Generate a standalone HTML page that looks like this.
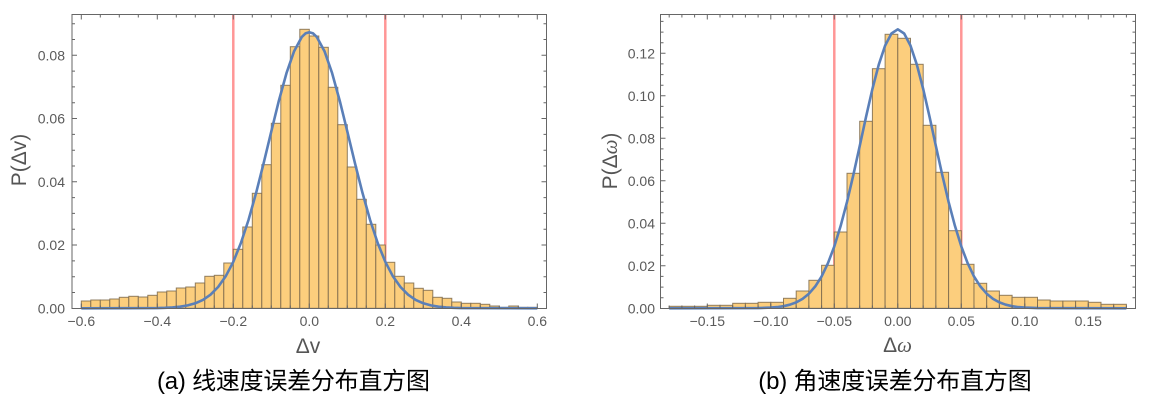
<!DOCTYPE html>
<html><head><meta charset="utf-8"><style>
html,body{margin:0;padding:0;background:#fff;}
svg{display:block;}
.tl{font-family:"Liberation Sans",sans-serif;font-size:14px;fill:#5a5a5a;}
.al{font-family:"Liberation Sans","DejaVu Sans",sans-serif;font-size:21px;fill:#555;}
.cap{font-family:"Liberation Sans","Noto Sans CJK SC",sans-serif;font-size:24px;fill:#000;}
</style></head><body>
<svg width="1149" height="413" viewBox="0 0 1149 413" xmlns="http://www.w3.org/2000/svg">
<rect width="1149" height="413" fill="#fff"/>

<!-- LEFT PLOT -->
<g stroke="#FF9696" stroke-width="2.5">
<line x1="233.3" y1="14.5" x2="233.3" y2="308.5"/>
<line x1="385.3" y1="14.5" x2="385.3" y2="308.5"/>
</g>
<g fill="#FCCE7D" stroke="#7d6a4c" stroke-opacity="0.85" stroke-width="1">
<rect x="81.3" y="301" width="9.5" height="7.3"/>
<rect x="90.8" y="300" width="9.5" height="8.3"/>
<rect x="100.3" y="300" width="9.5" height="8.3"/>
<rect x="109.8" y="299" width="9.5" height="9.3"/>
<rect x="119.3" y="297.3" width="9.5" height="11"/>
<rect x="128.8" y="296.3" width="9.5" height="12"/>
<rect x="138.3" y="297" width="9.5" height="11.3"/>
<rect x="147.8" y="295.3" width="9.5" height="13"/>
<rect x="157.3" y="292" width="9.5" height="16.3"/>
<rect x="166.8" y="291" width="9.5" height="17.3"/>
<rect x="176.3" y="288" width="9.5" height="20.3"/>
<rect x="185.8" y="287" width="9.5" height="21.3"/>
<rect x="195.3" y="283" width="9.5" height="25.3"/>
<rect x="204.8" y="276.3" width="9.5" height="32"/>
<rect x="214.3" y="275.3" width="9.5" height="33"/>
<rect x="223.8" y="263" width="9.5" height="45.3"/>
<rect x="233.3" y="249.3" width="9.5" height="59"/>
<rect x="242.8" y="227" width="9.5" height="81.3"/>
<rect x="252.3" y="193.3" width="9.5" height="115"/>
<rect x="261.8" y="164.7" width="9.5" height="143.6"/>
<rect x="271.3" y="123.3" width="9.5" height="185"/>
<rect x="280.8" y="85.3" width="9.5" height="223"/>
<rect x="290.3" y="46.7" width="9.5" height="261.6"/>
<rect x="299.8" y="29.3" width="9.5" height="279"/>
<rect x="309.3" y="36" width="9.5" height="272.3"/>
<rect x="318.8" y="47.3" width="9.5" height="261"/>
<rect x="328.3" y="87.3" width="9.5" height="221"/>
<rect x="337.8" y="124.7" width="9.5" height="183.6"/>
<rect x="347.3" y="167" width="9.5" height="141.3"/>
<rect x="356.8" y="199.3" width="9.5" height="109"/>
<rect x="366.3" y="224.3" width="9.5" height="84"/>
<rect x="375.8" y="245" width="9.5" height="63.3"/>
<rect x="385.3" y="262.3" width="9.5" height="46"/>
<rect x="394.8" y="276.3" width="9.5" height="32"/>
<rect x="404.3" y="283" width="9.5" height="25.3"/>
<rect x="413.8" y="288.3" width="9.5" height="20"/>
<rect x="423.3" y="290.3" width="9.5" height="18"/>
<rect x="432.8" y="297.3" width="9.5" height="11"/>
<rect x="442.3" y="298.3" width="9.5" height="10"/>
<rect x="451.8" y="302" width="9.5" height="6.3"/>
<rect x="461.3" y="303.3" width="9.5" height="5"/>
<rect x="470.8" y="303.3" width="9.5" height="5"/>
<rect x="480.3" y="304.3" width="9.5" height="4"/>
<rect x="489.8" y="306" width="9.5" height="2.3"/>
<rect x="499.3" y="307.3" width="9.5" height="1"/>
<rect x="508.8" y="306" width="9.5" height="2.3"/>
<rect x="518.3" y="307.3" width="9.5" height="1"/>
<rect x="527.8" y="307.3" width="9.5" height="1"/>
</g>
<polyline fill="none" stroke="#5A7FB8" stroke-width="2.6" stroke-linejoin="round" points="81.3,308.3 157.3,308.1 164.9,307.85 172.5,307.4 180.1,306.7 187.7,305.4 195.3,303.3 202.9,299.9 210.5,294.7 218.1,287.0 225.7,276.3 233.3,261.8 240.9,243.0 248.5,220.0 256.1,192.9 263.7,162.9 271.3,131.4 278.9,100.6 286.5,73.1 294.1,51.2 301.7,37.1 305.5,33.4 309.3,32.2 313.1,33.4 316.9,37.1 324.5,51.2 332.1,73.1 339.7,100.6 347.3,131.4 354.9,162.9 362.5,192.9 370.1,220.0 377.7,243.0 385.3,261.8 392.9,276.3 400.5,287.0 408.1,294.7 415.7,299.9 423.3,303.3 430.9,305.4 438.5,306.7 446.1,307.4 453.7,307.85 461.3,308.1 537.3,308.3"/>
<rect x="72" y="14.5" width="474.5" height="294" fill="none" stroke="#666" stroke-width="1"/>
<g stroke="#666" stroke-width="1" fill="none">
<path d="M81.3 308.5v-5M157.3 308.5v-5M233.3 308.5v-5M309.3 308.5v-5M385.3 308.5v-5M461.3 308.5v-5M537.3 308.5v-5M81.3 14.5v5M157.3 14.5v5M233.3 14.5v5M309.3 14.5v5M385.3 14.5v5M461.3 14.5v5M537.3 14.5v5"/>
<path d="M100.3 308.5v-3M119.3 308.5v-3M138.3 308.5v-3M176.3 308.5v-3M195.3 308.5v-3M214.3 308.5v-3M252.3 308.5v-3M271.3 308.5v-3M290.3 308.5v-3M328.3 308.5v-3M347.3 308.5v-3M366.3 308.5v-3M404.3 308.5v-3M423.3 308.5v-3M442.3 308.5v-3M480.3 308.5v-3M499.3 308.5v-3M518.3 308.5v-3M100.3 14.5v3M119.3 14.5v3M138.3 14.5v3M176.3 14.5v3M195.3 14.5v3M214.3 14.5v3M252.3 14.5v3M271.3 14.5v3M290.3 14.5v3M328.3 14.5v3M347.3 14.5v3M366.3 14.5v3M404.3 14.5v3M423.3 14.5v3M442.3 14.5v3M480.3 14.5v3M499.3 14.5v3M518.3 14.5v3"/>
<path d="M72 245.05h5M72 181.8h5M72 118.55h5M72 55.3h5M546.5 245.05h-5M546.5 181.8h-5M546.5 118.55h-5M546.5 55.3h-5"/>
<path d="M72 292.5h3M72 276.7h3M72 260.9h3M72 229.2h3M72 213.4h3M72 197.6h3M72 166h3M72 150.2h3M72 134.4h3M72 102.7h3M72 86.9h3M72 71.1h3M72 39.5h3M72 23.7h3M546.5 292.5h-3M546.5 276.7h-3M546.5 260.9h-3M546.5 229.2h-3M546.5 213.4h-3M546.5 197.6h-3M546.5 166h-3M546.5 150.2h-3M546.5 134.4h-3M546.5 102.7h-3M546.5 86.9h-3M546.5 71.1h-3M546.5 39.5h-3M546.5 23.7h-3"/>
</g>
<g class="tl" text-anchor="middle">
<text x="81.3" y="326">−0.6</text>
<text x="157.3" y="326">−0.4</text>
<text x="233.3" y="326">−0.2</text>
<text x="309.3" y="326">0.0</text>
<text x="385.3" y="326">0.2</text>
<text x="461.3" y="326">0.4</text>
<text x="537.3" y="326">0.6</text>
</g>
<g class="tl" text-anchor="end">
<text x="65" y="313.3">0.00</text>
<text x="65" y="250">0.02</text>
<text x="65" y="186.8">0.04</text>
<text x="65" y="123.5">0.06</text>
<text x="65" y="60.3">0.08</text>
</g>
<text class="al" x="308" y="353" text-anchor="middle">Δv</text>
<text class="al" transform="translate(26,160) rotate(-90)" text-anchor="middle">P(Δv)</text>
<text class="cap" x="157" y="389" textLength="273" lengthAdjust="spacing">(a) 线速度误差分布直方图</text>

<!-- RIGHT PLOT -->
<g stroke="#FF9696" stroke-width="2.5">
<line x1="834.3" y1="14.5" x2="834.3" y2="308.5"/>
<line x1="961.3" y1="14.5" x2="961.3" y2="308.5"/>
</g>
<g fill="#FCCE7D" stroke="#7d6a4c" stroke-opacity="0.85" stroke-width="1">
<rect x="669.2" y="306.3" width="12.7" height="2"/>
<rect x="681.9" y="306.3" width="12.7" height="2"/>
<rect x="694.6" y="306.3" width="12.7" height="2"/>
<rect x="707.3" y="305.3" width="12.7" height="3"/>
<rect x="720.0" y="305.3" width="12.7" height="3"/>
<rect x="732.7" y="303.3" width="12.7" height="5"/>
<rect x="745.4" y="303.3" width="12.7" height="5"/>
<rect x="758.1" y="302.3" width="12.7" height="6"/>
<rect x="770.8" y="302.3" width="12.7" height="6"/>
<rect x="783.5" y="298.3" width="12.7" height="10"/>
<rect x="796.2" y="291" width="12.7" height="17.3"/>
<rect x="808.9" y="280.3" width="12.7" height="28"/>
<rect x="821.6" y="265.3" width="12.7" height="43"/>
<rect x="834.3" y="232" width="12.7" height="76.3"/>
<rect x="847.0" y="173.3" width="12.7" height="135"/>
<rect x="859.7" y="121.3" width="12.7" height="187"/>
<rect x="872.4" y="68.7" width="12.7" height="239.6"/>
<rect x="885.1" y="34.3" width="12.7" height="274"/>
<rect x="897.8" y="38.3" width="12.7" height="270"/>
<rect x="910.5" y="64.3" width="12.7" height="244"/>
<rect x="923.2" y="125.3" width="12.7" height="183"/>
<rect x="935.9" y="172.3" width="12.7" height="136"/>
<rect x="948.6" y="230.7" width="12.7" height="77.6"/>
<rect x="961.3" y="264.3" width="12.7" height="44"/>
<rect x="974.0" y="283.3" width="12.7" height="25"/>
<rect x="986.7" y="291" width="12.7" height="17.3"/>
<rect x="999.4" y="295.3" width="12.7" height="13"/>
<rect x="1012.1" y="297.3" width="12.7" height="11"/>
<rect x="1024.8" y="297.3" width="12.7" height="11"/>
<rect x="1037.5" y="300" width="12.7" height="8.3"/>
<rect x="1050.2" y="301" width="12.7" height="7.3"/>
<rect x="1062.9" y="301" width="12.7" height="7.3"/>
<rect x="1075.6" y="301" width="12.7" height="7.3"/>
<rect x="1088.3" y="302.3" width="12.7" height="6"/>
<rect x="1101.0" y="304.3" width="12.7" height="4"/>
<rect x="1113.7" y="304.3" width="12.7" height="4"/>
</g>
<polyline fill="none" stroke="#5A7FB8" stroke-width="2.6" stroke-linejoin="round" points="669.2,308.3 758.1,308.1 770.8,307.6 777.15,307.1 783.5,306.2 789.85,304.7 796.2,302.4 802.55,298.9 808.9,293.7 815.25,286.4 821.6,276.4 827.95,263.2 834.3,246.4 840.65,225.9 847.0,201.9 853.35,174.9 859.7,146.1 866.05,116.8 872.4,89.0 878.75,64.7 885.1,45.6 891.45,33.5 897.8,29.3 904.15,33.5 910.5,45.6 916.85,64.7 923.2,89.0 929.55,116.8 935.9,146.1 942.25,174.9 948.6,201.9 954.95,225.9 961.3,246.4 967.65,263.2 974.0,276.4 980.35,286.4 986.7,293.7 993.05,298.9 999.4,302.4 1005.75,304.7 1012.1,306.2 1018.45,307.1 1024.8,307.6 1037.5,308.1 1126.4,308.3"/>
<rect x="660.5" y="14.5" width="475" height="294" fill="none" stroke="#666" stroke-width="1"/>
<g stroke="#666" stroke-width="1" fill="none">
<path d="M707.3 308.5v-5M770.8 308.5v-5M834.3 308.5v-5M897.8 308.5v-5M961.3 308.5v-5M1024.8 308.5v-5M1088.3 308.5v-5M707.3 14.5v5M770.8 14.5v5M834.3 14.5v5M897.8 14.5v5M961.3 14.5v5M1024.8 14.5v5M1088.3 14.5v5"/>
<path d="M669.2 308.5v-3M681.9 308.5v-3M694.6 308.5v-3M720 308.5v-3M732.7 308.5v-3M745.4 308.5v-3M758.1 308.5v-3M783.5 308.5v-3M796.2 308.5v-3M808.9 308.5v-3M821.6 308.5v-3M847 308.5v-3M859.7 308.5v-3M872.4 308.5v-3M885.1 308.5v-3M910.5 308.5v-3M923.2 308.5v-3M935.9 308.5v-3M948.6 308.5v-3M974 308.5v-3M986.7 308.5v-3M999.4 308.5v-3M1012.1 308.5v-3M1037.5 308.5v-3M1050.2 308.5v-3M1062.9 308.5v-3M1075.6 308.5v-3M1101 308.5v-3M1113.7 308.5v-3M1126.4 308.5v-3M669.2 14.5v3M681.9 14.5v3M694.6 14.5v3M720 14.5v3M732.7 14.5v3M745.4 14.5v3M758.1 14.5v3M783.5 14.5v3M796.2 14.5v3M808.9 14.5v3M821.6 14.5v3M847 14.5v3M859.7 14.5v3M872.4 14.5v3M885.1 14.5v3M910.5 14.5v3M923.2 14.5v3M935.9 14.5v3M948.6 14.5v3M974 14.5v3M986.7 14.5v3M999.4 14.5v3M1012.1 14.5v3M1037.5 14.5v3M1050.2 14.5v3M1062.9 14.5v3M1075.6 14.5v3M1101 14.5v3M1113.7 14.5v3M1126.4 14.5v3"/>
<path d="M660.5 265.8h5M660.5 223.3h5M660.5 180.8h5M660.5 138.3h5M660.5 95.8h5M660.5 53.3h5M1135.5 265.8h-5M1135.5 223.3h-5M1135.5 180.8h-5M1135.5 138.3h-5M1135.5 95.8h-5M1135.5 53.3h-5"/>
<path d="M660.5 297.7h3M660.5 287.1h3M660.5 276.4h3M660.5 255.2h3M660.5 244.6h3M660.5 233.9h3M660.5 212.7h3M660.5 202.1h3M660.5 191.4h3M660.5 170.2h3M660.5 159.6h3M660.5 148.9h3M660.5 127.7h3M660.5 117.1h3M660.5 106.4h3M660.5 85.2h3M660.5 74.6h3M660.5 63.9h3M660.5 42.7h3M660.5 32.1h3M660.5 21.4h3M1135.5 297.7h-3M1135.5 287.1h-3M1135.5 276.4h-3M1135.5 255.2h-3M1135.5 244.6h-3M1135.5 233.9h-3M1135.5 212.7h-3M1135.5 202.1h-3M1135.5 191.4h-3M1135.5 170.2h-3M1135.5 159.6h-3M1135.5 148.9h-3M1135.5 127.7h-3M1135.5 117.1h-3M1135.5 106.4h-3M1135.5 85.2h-3M1135.5 74.6h-3M1135.5 63.9h-3M1135.5 42.7h-3M1135.5 32.1h-3M1135.5 21.4h-3"/>
</g>
<g class="tl" text-anchor="middle">
<text x="707.3" y="326">−0.15</text>
<text x="770.8" y="326">−0.10</text>
<text x="834.3" y="326">−0.05</text>
<text x="897.8" y="326">0.00</text>
<text x="961.3" y="326">0.05</text>
<text x="1024.8" y="326">0.10</text>
<text x="1088.3" y="326">0.15</text>
</g>
<g class="tl" text-anchor="end">
<text x="655" y="313.3">0.00</text>
<text x="655" y="270.8">0.02</text>
<text x="655" y="228.3">0.04</text>
<text x="655" y="185.8">0.06</text>
<text x="655" y="143.3">0.08</text>
<text x="655" y="100.8">0.10</text>
<text x="655" y="58.3">0.12</text>
</g>
<text class="al" x="897.5" y="352" text-anchor="middle">Δ<tspan font-family="Liberation Serif, serif" font-style="italic">ω</tspan></text>
<text class="al" transform="translate(617,161) rotate(-90)" text-anchor="middle">P(Δ<tspan font-family="Liberation Serif, serif" font-style="italic">ω</tspan>)</text>
<text class="cap" x="758.3" y="389" textLength="273.4" lengthAdjust="spacing">(b) 角速度误差分布直方图</text>
</svg>
</body></html>
